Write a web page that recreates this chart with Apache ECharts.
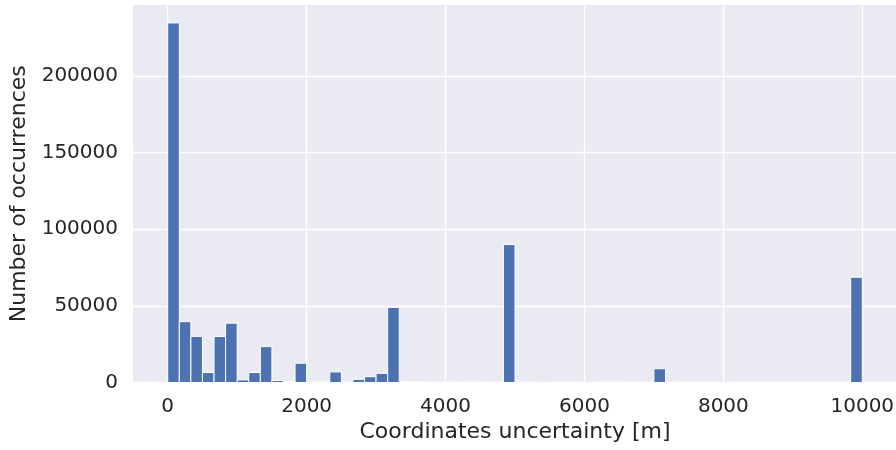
<!DOCTYPE html>
<html>
<head>
<meta charset="utf-8">
<script src="https://cdn.jsdelivr.net/npm/echarts@6/dist/echarts.min.js"></script>
<style>
html,body{margin:0;padding:0;background:#fff;}
#chart{width:896px;height:450px;}
</style>
</head>
<body>
<div id="chart"></div>
<script>
// Histogram: 60 bins over 0..10000 m
const binStart = 0;
const binEnd = 10000;
const binCount = 60;
const counts = [
  234600, 39700, 30100, 6500, 30000, 38700, 1700, 6500, 23400, 1300,
  600, 12600, 200, 200, 6900, 0, 2100, 3800, 6000, 49000,
  600, 600, 100, 0, 200, 100, 200, 100, 100, 90000,
  0, 0, 800, 100, 0, 0, 0, 200, 500, 100,
  0, 0, 9000, 200, 0, 0, 0, 0, 0, 0,
  0, 0, 0, 0, 0, 0, 0, 0, 0, 68700
];
const xTicks = [0, 2000, 4000, 6000, 8000, 10000];
const yTicks = [0, 50000, 100000, 150000, 200000];
const xLabel = 'Coordinates uncertainty [m]';
const yLabel = 'Number of occurrences';

const binWidth = (binEnd - binStart) / binCount;
const data = counts.map((c, i) => [binStart + i * binWidth, binStart + (i + 1) * binWidth, c]);

const font = 'DejaVu Sans';
const textColor = '#262626';

const chart = echarts.init(document.getElementById('chart'), null, {renderer: 'canvas'});
chart.setOption({
  backgroundColor: '#ffffff',
  animation: false,
  grid: {left: 133, top: 5, width: 764, height: 377.5, backgroundColor: '#EAEAF2', show: true, borderWidth: 0,
         containLabel: false, outerBoundsMode: 'none'},
  xAxis: {
    type: 'value',
    min: -500, max: 10500,
    name: xLabel,
    nameLocation: 'middle',
    nameGap: 37,
    nameTextStyle: {fontFamily: font, fontSize: 22, color: textColor},
    axisLine: {show: false},
    axisTick: {show: false, customValues: xTicks},
    axisLabel: {customValues: xTicks, fontFamily: font, fontSize: 20, color: textColor, margin: 14,
                formatter: v => String(v)},
    splitLine: {show: true, lineStyle: {color: '#ffffff', width: 1.3}}
  },
  yAxis: {
    type: 'value',
    min: 0, max: 246300,
    name: yLabel,
    nameLocation: 'middle',
    nameGap: 100,
    nameTextStyle: {fontFamily: font, fontSize: 22, color: textColor},
    axisLine: {show: false},
    axisTick: {show: false, customValues: yTicks},
    axisLabel: {customValues: yTicks, fontFamily: font, fontSize: 20, color: textColor, margin: 15,
                formatter: v => String(v)},
    splitLine: {show: true, lineStyle: {color: '#ffffff', width: 1.3}}
  },
  series: [{
    type: 'custom',
    data: data,
    encode: {x: [0, 1], y: 2},
    renderItem: function (params, api) {
      const x0 = api.value(0), x1 = api.value(1), v = api.value(2);
      if (v <= 0) return null;
      const p0 = api.coord([x0, 0]);
      const p1 = api.coord([x1, v]);
      return {
        type: 'rect',
        shape: {x: p0[0], y: p1[1], width: p1[0] - p0[0], height: p0[1] - p1[1]},
        style: {fill: '#4C72B0', stroke: '#ffffff', lineWidth: 1}
      };
    }
  }]
});
</script>
</body>
</html>
